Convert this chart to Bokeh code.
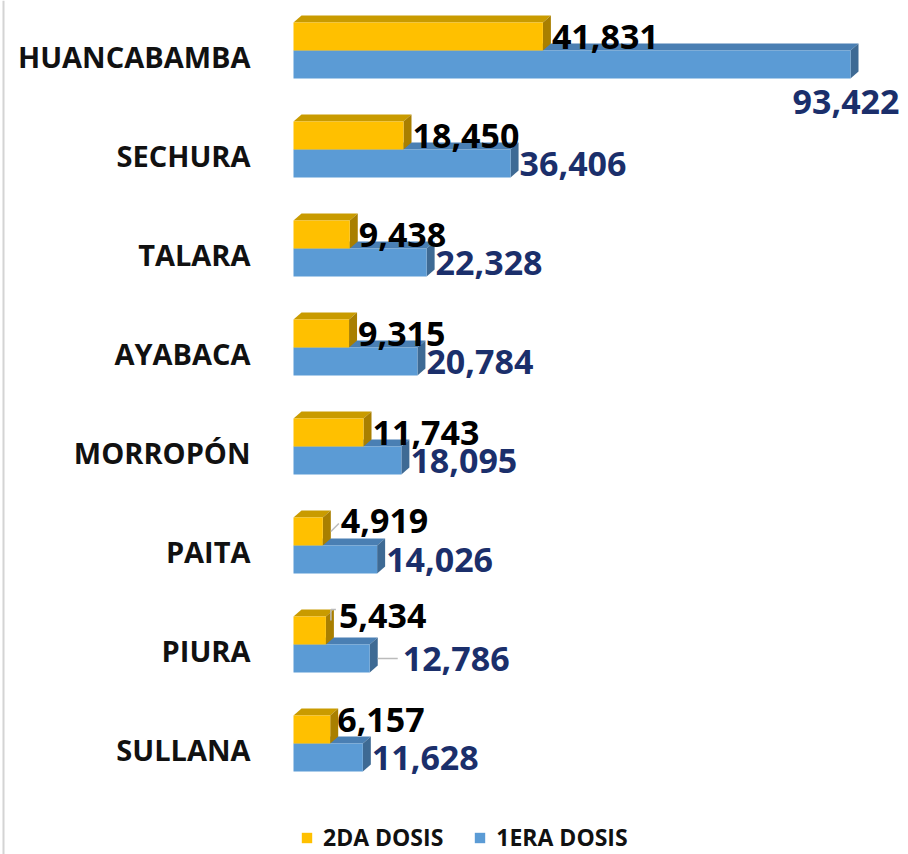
from bokeh.plotting import figure
from bokeh.models import Range1d, ColumnDataSource, Legend, LegendItem, Span
from bokeh.core.properties import value
from bokeh.embed import file_html
from bokeh.resources import INLINE

# ---- data ----
provinces = ["HUANCABAMBA", "SECHURA", "TALARA", "AYABACA",
             "MORROPÓN", "PAITA", "PIURA", "SULLANA"]
dosis2 = [41831, 18450, 9438, 9315, 11743, 4919, 5434, 6157]
dosis1 = [93422, 36406, 22328, 20784, 18095, 14026, 12786, 11628]
series_names = ["2DA DOSIS", "1ERA DOSIS"]

# ---- geometry (pixels) ----
W, H = 908, 854
ZERO_PX = 293            # screen x of value 0
UPX = 93422 / 557.0      # data units per pixel along x
ROW = 99.0               # pixels between rows
TOP = 50.0               # y of first row centre (px from top)
BAR_H = 28 / ROW
DX = 8 * UPX
DY = 7 / ROW
FONT = "Open Sans"

GOLD, GOLD_TOP, GOLD_SIDE = "#FFC000", "#C99B00", "#A97F00"
BLUE, BLUE_TOP, BLUE_SIDE = "#5B9BD5", "#4A7FB3", "#3E6A94"
NAVY = "#1B2F6B"

p = figure(width=W, height=H, output_backend="svg", toolbar_location=None,
           x_range=Range1d(-ZERO_PX * UPX, (W - ZERO_PX) * UPX),
           y_range=Range1d((H - TOP) / ROW, -TOP / ROW),
           min_border=0, outline_line_color=None)
p.axis.visible = False
p.grid.visible = False
p.background_fill_color = "white"

# faint left frame line
p.add_layout(Span(location=(3 - ZERO_PX) * UPX, dimension="height",
                  line_color="#D4D4D4", line_width=2))

n = len(provinces)
ys = list(range(n))

def top_face(v, y):
    return [0, v, v + DX, DX], [y, y, y - DY, y - DY]

def side_face(v, y0, y1):
    return [v, v, v + DX, v + DX], [y0, y1, y1 - DY, y0 - DY]

# blue (1ERA) faces
bt = [top_face(v, y) for v, y in zip(dosis1, ys)]
bs = [side_face(v, y, y + BAR_H) for v, y in zip(dosis1, ys)]
p.patches([a for a, b in bt], [b for a, b in bt], fill_color=BLUE_TOP, line_color=None)
p.patches([a for a, b in bs], [b for a, b in bs], fill_color=BLUE_SIDE, line_color=None)
r_blue = p.quad(left=0, right=dosis1, top=[y for y in ys],
                bottom=[y + BAR_H for y in ys], fill_color=BLUE, line_color=None)

# gold (2DA) faces
gt = [top_face(v, y - BAR_H) for v, y in zip(dosis2, ys)]
gs = [side_face(v, y - BAR_H, y) for v, y in zip(dosis2, ys)]
p.patches([a for a, b in gt], [b for a, b in gt], fill_color=GOLD_TOP, line_color=None)
p.patches([a for a, b in gs], [b for a, b in gs], fill_color=GOLD_SIDE, line_color=None)
r_gold = p.quad(left=0, right=dosis2, top=[y - BAR_H for y in ys],
                bottom=ys, fill_color=GOLD, line_color=None)

# category labels
p.text(x=[(250 - ZERO_PX) * UPX] * n, y=[y + 6 / ROW for y in ys], text=provinces,
       text_align="right", text_baseline="middle", text_font=value(FONT),
       text_font_style="bold", text_font_size="29px", text_color="#111111")

# value label placement tweaks (px)
gold_dx = {5: 18, 6: 13, 7: 7}
gold_dy = {5: -11, 6: -15, 7: -10}
blue_dx = {6: 33}

gx = [v + (gold_dx.get(i, 9)) * UPX for i, v in enumerate(dosis2)]
gy = [y - BAR_H / 2 + gold_dy.get(i, 0) / ROW for i, y in enumerate(ys)]
p.text(x=gx, y=gy, text=[f"{v:,}" for v in dosis2], text_align="left",
       text_baseline="middle", text_font=value(FONT), text_font_style="bold",
       text_font_size="34px", text_color="#000000")

bx, by, balign = [], [], []
for i, (v, y) in enumerate(zip(dosis1, ys)):
    if i == 0:
        bx.append((899 - ZERO_PX) * UPX)
        by.append(y + 51 / ROW)
        balign.append("right")
    else:
        bx.append(v + blue_dx.get(i, 9) * UPX)
        by.append(y + BAR_H / 2)
        balign.append("left")
src = ColumnDataSource(dict(x=bx, y=by, t=[f"{v:,}" for v in dosis1], a=balign))
p.text(x="x", y="y", text="t", text_align="a", source=src,
       text_baseline="middle", text_font=value(FONT), text_font_style="bold",
       text_font_size="34px", text_color=NAVY)

# leader lines
lx0 = [dosis2[5] + DX, dosis2[6] + 5 * UPX, dosis1[6] + DX]
ly0 = [5 - BAR_H / 2, 6 - BAR_H - 7 / ROW, 6 + BAR_H / 2]
lx1 = [dosis2[5] + 16 * UPX, dosis2[6] + 10 * UPX, dosis1[6] + 28 * UPX]
ly1 = [5 - BAR_H / 2 - 8 / ROW, 6 - BAR_H - 7 / ROW, 6 + BAR_H / 2]
p.segment(x0=lx0, y0=ly0, x1=lx1, y1=ly1, line_color="#BBBBBB", line_width=1.5)
p.segment(x0=[dosis2[6] + 5 * UPX], y0=[6 - BAR_H - 7 / ROW],
          x1=[dosis2[6] + 5 * UPX], y1=[6 - BAR_H + 4 / ROW],
          line_color="#BBBBBB", line_width=1.5)

legend = Legend(items=[LegendItem(label=series_names[0], renderers=[r_gold]),
                       LegendItem(label=series_names[1], renderers=[r_blue])],
                orientation="horizontal", location=(300, 1),
                glyph_width=13, glyph_height=13, label_standoff=10, spacing=30,
                padding=0, margin=0, border_line_color=None,
                background_fill_alpha=0,
                label_text_font=FONT, label_text_font_style="bold",
                label_text_font_size="23px", label_text_color="#111111")
p.add_layout(legend)

open("out.html", "w").write(file_html(p, INLINE))
